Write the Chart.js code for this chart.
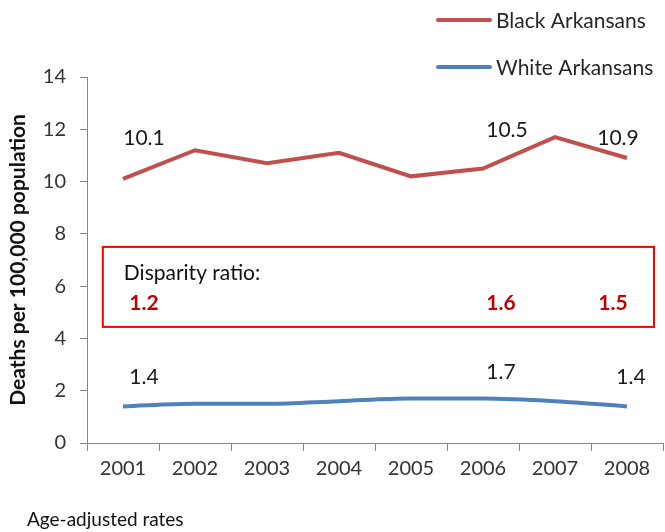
<!DOCTYPE html>
<html>
<head>
<meta charset="utf-8">
<script src="https://cdn.jsdelivr.net/npm/chart.js@4"></script>
<style>
  html, body { margin: 0; padding: 0; background: #fff; }
  #wrap { width: 665px; height: 532px; }
</style>
</head>
<body>
<div id="wrap"><canvas id="chart" width="665" height="532"></canvas></div>
<script>
const years = ["2001", "2002", "2003", "2004", "2005", "2006", "2007", "2008"];
const blackRates = [10.1, 11.2, 10.7, 11.1, 10.2, 10.5, 11.7, 10.9];
const whiteRates = [1.4, 1.5, 1.5, 1.6, 1.7, 1.7, 1.6, 1.4];
const labelledYears = ["2001", "2006", "2008"];
const disparityRatios = ["1.2", "1.6", "1.5"];

const FONT = "Lato, 'Open Sans', sans-serif";
const RED = "#C0504D";
const BLUE = "#4F81BD";

// label offsets (px) from the point, same order as labelledYears
const blackOffsets = [[21, -41], [24, -38], [-9, -20]];
const whiteOffsets = [[21, -29], [18, -26], [4, -29]];
const ratioOffsets = [21, 18, -14];

const extras = {
  id: "extras",
  afterDatasetsDraw(chart) {
    const ctx = chart.ctx;
    const x = chart.scales.x;
    const y = chart.scales.y;
    ctx.save();

    // disparity box
    const left = x.getPixelForValue(-0.28);
    const right = x.getPixelForValue(7.375);
    const top = y.getPixelForValue(7.5);
    const bottom = y.getPixelForValue(4.44);
    ctx.strokeStyle = "#FF0000";
    ctx.lineWidth = 2;
    ctx.strokeRect(left, top, right - left, bottom - top);

    ctx.textBaseline = "middle";
    ctx.fillStyle = "#111";
    ctx.font = "21px " + FONT;
    ctx.textAlign = "left";
    ctx.fillText("Disparity ratio:", left + 21, top + 26);

    ctx.font = "bold 21px " + FONT;
    ctx.fillStyle = "#C00000";
    ctx.textAlign = "center";
    labelledYears.forEach((yr, i) => {
      const px = x.getPixelForValue(years.indexOf(yr));
      ctx.fillText(disparityRatios[i], px + ratioOffsets[i], top + 56);
    });

    // data labels
    ctx.font = "21px " + FONT;
    ctx.fillStyle = "#1a1a1a";
    labelledYears.forEach((yr, i) => {
      const idx = years.indexOf(yr);
      const px = x.getPixelForValue(idx);
      ctx.fillText(blackRates[idx].toFixed(1), px + blackOffsets[i][0], y.getPixelForValue(blackRates[idx]) + blackOffsets[i][1]);
      ctx.fillText(whiteRates[idx].toFixed(1), px + whiteOffsets[i][0], y.getPixelForValue(whiteRates[idx]) + whiteOffsets[i][1]);
    });

    // legend
    ctx.lineCap = "round";
    ctx.lineWidth = 4;
    ctx.textAlign = "left";
    ctx.font = "21px " + FONT;
    chart.data.datasets.forEach((ds, i) => {
      const ly = 20 + i * 47;
      ctx.strokeStyle = ds.borderColor;
      ctx.beginPath();
      ctx.moveTo(438, ly);
      ctx.lineTo(490, ly);
      ctx.stroke();
      ctx.fillStyle = "#262626";
      ctx.fillText(ds.label, 496, ly + 1);
    });

    // footnote
    ctx.font = "19px " + FONT;
    ctx.fillStyle = "#111";
    ctx.fillText("Age-adjusted rates", 27, 520);
    ctx.restore();
  }
};

new Chart(document.getElementById("chart"), {
  type: "line",
  data: {
    labels: years,
    datasets: [
      {
        label: "Black Arkansans",
        data: blackRates,
        borderColor: RED,
        borderWidth: 4,
        pointRadius: 0,
        tension: 0
      },
      {
        label: "White Arkansans",
        data: whiteRates,
        borderColor: BLUE,
        borderWidth: 4,
        pointRadius: 0,
        cubicInterpolationMode: "monotone"
      }
    ]
  },
  options: {
    responsive: false,
    animation: false,
    layout: { padding: { top: 77, right: 2, left: 0, bottom: 0 } },
    plugins: {
      legend: { display: false },
      tooltip: { enabled: false }
    },
    scales: {
      x: {
        offset: true,
        grid: { offset: true, drawOnChartArea: false, tickLength: 8, color: "#868686" },
        border: { color: "#868686" },
        ticks: { color: "#333", font: { family: FONT, size: 20 }, padding: 6, maxRotation: 0 },
        afterFit(scale) { scale.height = 89; }
      },
      y: {
        min: 0,
        max: 14,
        ticks: { stepSize: 2, color: "#333", font: { family: FONT, size: 20 }, padding: 14 },
        grid: { drawOnChartArea: false, tickLength: 7, color: "#868686" },
        border: { color: "#868686" },
        title: {
          display: true,
          text: "Deaths per 100,000 population",
          color: "#111",
          font: { family: FONT, size: 21, weight: "bold" },
          padding: { top: 6, bottom: 0 }
        },
        afterFit(scale) { scale.width = 87; }
      }
    }
  },
  plugins: [extras]
});
</script>
</body>
</html>
